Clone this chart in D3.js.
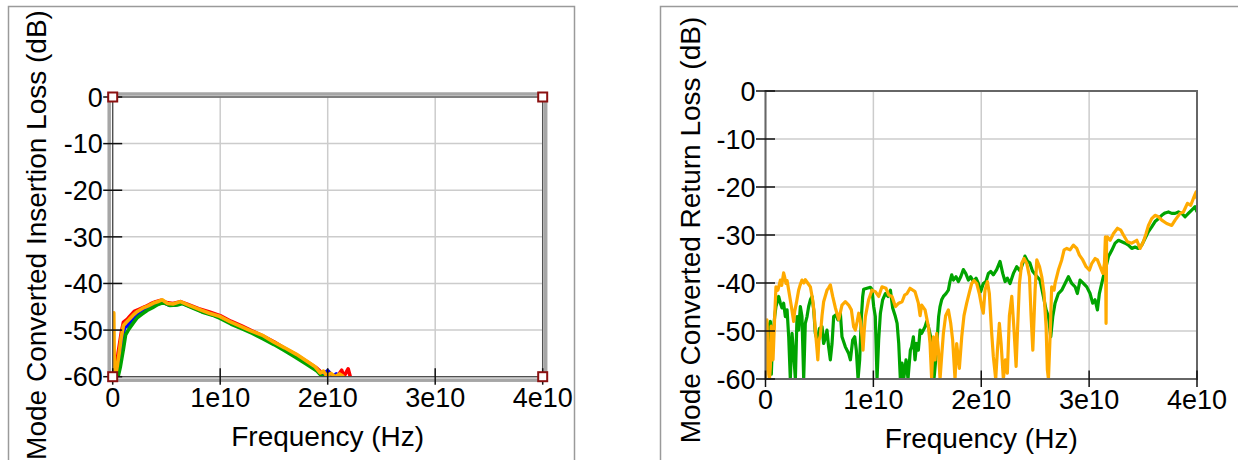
<!DOCTYPE html>
<html>
<head>
<meta charset="utf-8">
<script src="https://cdn.jsdelivr.net/npm/d3@7"></script>
<style>
  body { margin: 0; background: #fff; }
  svg { display: block; font-family: "Liberation Sans", Arial, sans-serif; }
</style>
</head>
<body>
<svg id="chart" width="1238" height="460"></svg>
<script>
// axis ticks (frequency in Hz, level in dB)
const freqTicks = [0, 1e10, 2e10, 3e10, 4e10];
const freqTickLabels = ["0", "1e10", "2e10", "3e10", "4e10"];
const dbTicks = [0, -10, -20, -30, -40, -50, -60];

// left plot: mode converted insertion loss, points are [GHz, dB]
const insRed = [[0.1,-60],[0.3,-59],[0.5,-55],[0.8,-50.5],[1.0,-48.3],[1.3,-47.8],[1.6,-47],[2.0,-46],[2.5,-45.5],[3.0,-45],[3.5,-44.4],[4.0,-43.9],[4.5,-43.6],[5.0,-44.1],[5.6,-44.3],[6.3,-43.9],[7.0,-44.5],[8.0,-45.4],[9.0,-46.1],[10.0,-46.9],[11.0,-48.1],[12.0,-49.1],[13.0,-50.2],[14.0,-51.3],[15.0,-52.5],[16.0,-53.9],[17.0,-55.2],[18.0,-56.7],[19.0,-58.2],[19.6,-59.5],[20.1,-59],[20.5,-60],[21.0,-59.6],[21.3,-58.6],[21.5,-60],[21.9,-58.3],[22.1,-60]];
const insBlue = [[0.1,-60],[0.4,-59.5],[0.6,-57],[0.9,-52],[1.1,-49.5],[1.4,-49],[1.8,-47.8],[2.2,-46.8],[2.6,-46.4],[3.0,-45.6],[3.5,-45.2],[4.0,-44.5],[4.6,-43.9],[5.2,-44.6],[5.8,-44.6],[6.4,-44.2],[7.2,-44.9],[8.2,-45.9],[9.2,-46.6],[10.0,-47.3],[11.0,-48.4],[12.0,-49.4],[13.0,-50.4],[14.0,-51.6],[15.0,-52.8],[16.0,-54.1],[17.0,-55.5],[18.0,-56.9],[19.0,-58.5],[19.5,-59.6],[20.0,-58.7],[20.5,-60],[20.8,-59.4],[21.2,-60]];
const insGreen = [[0.2,-60],[0.5,-60],[0.7,-58],[1.0,-54],[1.2,-51],[1.5,-49.8],[1.9,-48.5],[2.3,-47.3],[2.7,-46.6],[3.2,-45.8],[3.7,-45.2],[4.2,-44.5],[4.7,-44.1],[5.3,-44.7],[6.0,-44.6],[6.5,-44.3],[7.3,-45.1],[8.3,-46.1],[9.3,-46.8],[10.0,-47.5],[11.0,-48.7],[12.0,-49.7],[13.0,-50.7],[14.0,-51.9],[15.0,-53.1],[16.0,-54.4],[17.0,-55.8],[18.0,-57.3],[19.0,-58.8],[19.5,-60],[20.0,-60]];
const insOrange = [[0.0,-60],[0.05,-47],[0.1,-46.3],[0.15,-58],[0.25,-60],[0.4,-58],[0.6,-55],[0.8,-51.5],[1.0,-49],[1.2,-48.5],[1.5,-47.8],[1.9,-46.8],[2.3,-46],[2.8,-45.3],[3.3,-44.8],[3.8,-44.2],[4.3,-43.8],[4.6,-43.5],[5.1,-44.3],[5.6,-44.4],[6.3,-43.9],[7.0,-44.6],[8.1,-45.6],[9.0,-46.4],[10.0,-47.1],[10.9,-48.2],[11.8,-49.1],[12.8,-50.1],[14.0,-51.2],[15.0,-52.6],[16.0,-53.8],[17.1,-55.2],[18.0,-56.6],[18.8,-57.8],[19.3,-59.2],[19.6,-58.8],[19.9,-59.8],[20.3,-59.3],[20.7,-60],[21.1,-59.4],[21.5,-60]];

// right plot: mode converted return loss, points are [GHz, dB]
const retGreen = [[0.0,-52],[0.05,-50.5],[0.15,-56],[0.29,-49.1],[0.45,-48],[0.54,-59],[0.65,-52],[0.85,-47],[0.97,-44.9],[1.22,-42.8],[1.38,-44.2],[1.53,-45.2],[1.68,-44.2],[1.84,-47],[2.0,-45.6],[2.15,-51.2],[2.3,-60],[2.46,-50.5],[2.61,-54.7],[2.77,-60],[2.92,-47],[3.07,-49.8],[3.23,-44.9],[3.38,-47],[3.54,-60],[3.69,-48.4],[3.85,-47],[4.0,-44.9],[4.16,-43.5],[4.31,-42.8],[4.47,-45.6],[4.62,-50.5],[4.8,-52],[5.0,-49.5],[5.24,-49.1],[5.39,-52.6],[5.54,-51.5],[5.7,-49.8],[5.85,-53.3],[6.01,-56],[6.17,-52.6],[6.32,-47],[6.54,-46.6],[6.72,-47.7],[6.94,-46.3],[7.09,-51.2],[7.4,-53.3],[7.71,-54.7],[7.87,-56],[8.08,-51.9],[8.27,-51.2],[8.42,-54],[8.58,-60],[8.73,-56],[8.89,-47],[9.01,-42.8],[9.1,-41.3],[9.41,-41.1],[9.72,-40.9],[9.87,-41.3],[10.03,-44.9],[10.18,-47],[10.34,-60],[10.49,-51.9],[10.65,-46.3],[10.86,-43.5],[11.11,-42.2],[11.36,-42.8],[11.58,-41.5],[11.79,-45.2],[12.04,-47],[12.2,-48.4],[12.35,-52.6],[12.5,-60],[12.66,-56.7],[12.81,-60],[13.03,-56],[13.21,-60],[13.43,-54],[13.55,-53.3],[13.71,-51.2],[13.86,-56],[14.02,-52.6],[14.17,-54],[14.33,-49.8],[14.48,-50.5],[14.79,-49.1],[14.94,-48],[15.1,-49.1],[15.31,-51.2],[15.5,-54],[15.62,-60],[15.81,-55.3],[15.93,-51.2],[16.05,-47],[16.18,-44.9],[16.33,-43.5],[16.49,-42.8],[16.73,-42.2],[16.95,-41.5],[17.1,-39.7],[17.26,-38.3],[17.42,-39.4],[17.66,-38.7],[17.88,-39.7],[18.1,-38.7],[18.34,-37.2],[18.56,-38],[18.81,-39.4],[19.02,-38.7],[19.27,-39.7],[19.52,-39],[19.73,-40.1],[19.95,-41.8],[20.19,-40.1],[20.44,-39.7],[20.66,-38],[20.88,-37.6],[21.12,-38.3],[21.43,-37.2],[21.74,-35.5],[21.99,-38],[22.21,-39.7],[22.42,-39],[22.67,-40.1],[22.98,-38],[23.29,-36.6],[23.6,-37.5],[23.91,-35.5],[24.05,-34.4],[24.3,-35.5],[24.5,-35.8],[24.75,-37.5],[25.1,-38.5],[25.45,-39.4],[25.76,-42.8],[26.01,-45.6],[26.23,-47],[26.44,-51.2],[26.63,-47],[26.84,-44.2],[27.15,-42.2],[27.46,-41.5],[27.77,-40.1],[28.08,-38.7],[28.39,-40.1],[28.7,-40.8],[28.91,-42.2],[29.16,-39.4],[29.47,-40.1],[29.78,-40.8],[30.09,-42.2],[30.33,-44.2],[30.55,-43.5],[30.77,-45.6],[30.95,-42.2],[31.17,-40.1],[31.39,-38],[31.57,-36.6],[31.79,-34.5],[32.1,-33.2],[32.41,-31.7],[32.72,-31.1],[33.03,-31.4],[33.34,-31.7],[33.64,-32.1],[33.95,-32.8],[34.26,-32.5],[34.57,-32.8],[34.88,-32.1],[35.19,-30.7],[35.5,-29.3],[35.8,-28.3],[36.11,-27.2],[36.42,-26.6],[36.73,-25.9],[37.04,-25.4],[37.35,-25.2],[37.66,-25.5],[37.97,-25.5],[38.28,-25.2],[38.59,-25.5],[38.9,-26.2],[39.2,-25.5],[39.51,-24.8],[39.82,-24.1],[40,-25.2]];
const retOrange = [[0.0,-60],[0.05,-59],[0.14,-47.7],[0.22,-55],[0.29,-52.6],[0.37,-60],[0.45,-57.4],[0.52,-49],[0.6,-50.5],[0.7,-56],[0.85,-47],[0.97,-40.8],[1.15,-41.5],[1.38,-39.4],[1.5,-40.5],[1.68,-37.9],[1.8,-39],[1.9,-40.1],[2.0,-39.5],[2.15,-41.5],[2.4,-44.9],[2.61,-48],[2.7,-46],[2.86,-44.2],[3.07,-41.5],[3.2,-40.5],[3.38,-39.4],[3.55,-40],[3.69,-39.3],[3.94,-40.1],[4.16,-40.8],[4.37,-43.5],[4.5,-46],[4.62,-49.8],[4.78,-54],[4.85,-56],[4.95,-52],[5.08,-51],[5.24,-46.8],[5.39,-43.9],[5.7,-41.5],[5.85,-41],[6.01,-40.4],[6.23,-42.8],[6.48,-45.2],[6.79,-47.6],[6.95,-46],[7.09,-44.6],[7.4,-43.9],[7.71,-44.6],[7.96,-45.6],[8.17,-49.1],[8.33,-49.8],[8.5,-48],[8.64,-46.3],[8.8,-48],[8.95,-51.2],[9.04,-54],[9.15,-50],[9.26,-47],[9.56,-43.5],[9.87,-41.5],[10.18,-41.8],[10.49,-42.8],[10.8,-40.8],[11.17,-41.1],[11.42,-42.5],[11.73,-42.8],[12.04,-44.9],[12.35,-44.2],[12.66,-43.9],[12.9,-42.5],[13.12,-42.2],[13.4,-41.1],[13.86,-41.8],[14.17,-44.2],[14.33,-46.8],[14.48,-44.6],[14.79,-45.6],[15.1,-49.1],[15.25,-52.5],[15.4,-59.9],[15.56,-51.2],[15.72,-56],[15.87,-50.5],[16.03,-54],[16.18,-60],[16.33,-55.3],[16.49,-50.5],[16.7,-46.8],[16.95,-45.6],[17.17,-48.4],[17.35,-51.9],[17.57,-60],[17.72,-52.6],[17.97,-57.8],[18.19,-51.2],[18.4,-46.8],[18.65,-44.2],[18.87,-42.2],[19.11,-40.1],[19.33,-39.5],[19.58,-40.1],[19.82,-42.2],[20.04,-44.9],[20.19,-46.3],[20.35,-41.5],[20.57,-39.7],[20.75,-42.2],[20.97,-50.5],[21.12,-55.3],[21.34,-60],[21.5,-54],[21.68,-48.4],[21.84,-52.6],[22.05,-60],[22.24,-56],[22.42,-58.8],[22.61,-46.8],[22.83,-42.8],[23.04,-49.8],[23.23,-57.4],[23.35,-50.5],[23.54,-40.1],[23.75,-35.9],[23.97,-34.9],[24.22,-35.9],[24.47,-38.7],[24.62,-46.8],[24.78,-54],[24.99,-41.5],[25.15,-35.2],[25.4,-36.6],[25.61,-38.7],[25.82,-42.2],[26.01,-49.1],[26.13,-58.1],[26.23,-60],[26.38,-51.2],[26.53,-40.8],[26.75,-41.5],[26.84,-40.1],[27.15,-37.3],[27.46,-35.2],[27.68,-33.1],[27.93,-32.8],[28.23,-33.1],[28.54,-32.1],[28.85,-32.8],[29.1,-34.2],[29.41,-35.2],[29.72,-36.6],[30.03,-37.3],[30.25,-35.9],[30.56,-34.9],[30.77,-35.2],[31.02,-36.6],[31.27,-38],[31.42,-35.9],[31.51,-30.4],[31.57,-48.4],[31.62,-31],[31.7,-30.4],[31.95,-31.1],[32.26,-29.7],[32.63,-28.6],[32.94,-29],[33.18,-30],[33.55,-31.4],[33.95,-31.7],[34.42,-31.1],[34.72,-32.8],[35.03,-31.4],[35.28,-29.7],[35.5,-28],[35.8,-26.6],[36.11,-25.9],[36.42,-26.2],[36.73,-26.9],[37.19,-27.6],[37.66,-28],[37.97,-26.9],[38.43,-25.5],[38.74,-25.2],[39.11,-23.4],[39.42,-23.8],[39.73,-22],[39.92,-21],[40,-22.5]];

const RED = "#ff0000", BLUE = "#0000ff", GREEN = "#00a400", ORANGE = "#ffaa00";
const TICK_FONT = 27, TITLE_FONT = 28;

var svg = d3.select("#chart");

drawPanel({
    id: "ins",
    box: {x: 8.5, y: 6.5, w: 566, h: 480},
    plot: {left: 112.7, right: 542.7, top: 97, bottom: 376.7},
    yTitle: "Mode Converted Insertion Loss (dB)",
    yTitleX: 46, yTitleY: 235,
    framed: true,
    lineWidth: 3.6,
    series: [[insRed, RED], [insBlue, BLUE], [insGreen, GREEN], [insOrange, ORANGE]]
});

drawPanel({
    id: "ret",
    box: {x: 660.5, y: 6.5, w: 620, h: 480},
    plot: {left: 765.5, right: 1197, top: 91, bottom: 379},
    yTitle: "Mode Converted Return Loss (dB)",
    yTitleX: 700, yTitleY: 230,
    framed: false,
    lineWidth: 3.2,
    series: [[retGreen, GREEN], [retOrange, ORANGE]]
});

function drawPanel(p) {
    // outer panel border
    svg.append("rect")
        .attr("x", p.box.x).attr("y", p.box.y)
        .attr("width", p.box.w).attr("height", p.box.h)
        .attr("fill", "none")
        .attr("stroke", "#9a9a9a")
        .attr("stroke-width", 1.5);

    var x = d3.scaleLinear().domain([0, 4e10]).range([p.plot.left, p.plot.right]);
    var y = d3.scaleLinear().domain([-60, 0]).range([p.plot.bottom, p.plot.top]);
    var g = svg.append("g");

    // grid
    g.selectAll(".vgrid").data(freqTicks).enter().append("line")
        .attr("x1", d => x(d)).attr("x2", d => x(d))
        .attr("y1", p.plot.top).attr("y2", p.plot.bottom)
        .attr("stroke", "#cccccc").attr("stroke-width", 1.5);
    g.selectAll(".hgrid").data(dbTicks).enter().append("line")
        .attr("x1", p.plot.left).attr("x2", p.plot.right)
        .attr("y1", d => y(d)).attr("y2", d => y(d))
        .attr("stroke", "#cccccc").attr("stroke-width", 1.5);

    // traces
    svg.append("clipPath").attr("id", "clip-" + p.id)
        .append("rect")
        .attr("x", p.plot.left).attr("y", p.plot.top)
        .attr("width", p.plot.right - p.plot.left)
        .attr("height", p.plot.bottom - p.plot.top);

    var line = d3.line()
        .x(d => x(d[0] * 1e9))
        .y(d => y(d[1]));

    var traces = svg.append("g").attr("clip-path", "url(#clip-" + p.id + ")");
    p.series.forEach(function(s) {
        traces.append("path")
            .datum(s[0])
            .attr("d", line)
            .attr("fill", "none")
            .attr("stroke", s[1])
            .attr("stroke-width", p.lineWidth)
            .attr("stroke-linejoin", "round");
    });

    // plot frame
    if (p.framed) {
        svg.append("rect")
            .attr("x", p.plot.left - 3.5).attr("y", p.plot.top - 3)
            .attr("width", p.plot.right - p.plot.left + 6.5)
            .attr("height", p.plot.bottom - p.plot.top + 6.5)
            .attr("fill", "none").attr("stroke", "#a6a6a6").attr("stroke-width", 3.5);
        svg.append("rect")
            .attr("x", p.plot.left).attr("y", p.plot.top)
            .attr("width", p.plot.right - p.plot.left)
            .attr("height", p.plot.bottom - p.plot.top)
            .attr("fill", "none").attr("stroke", "#444").attr("stroke-width", 1.2);
    } else {
        svg.append("rect")
            .attr("x", p.plot.left).attr("y", p.plot.top)
            .attr("width", p.plot.right - p.plot.left)
            .attr("height", p.plot.bottom - p.plot.top)
            .attr("fill", "none").attr("stroke", "#666").attr("stroke-width", 2);
    }

    // tick marks crossing the axes
    svg.append("g").selectAll("line").data(dbTicks).enter().append("line")
        .attr("x1", p.plot.left - 9.5).attr("x2", p.plot.left + 9.5)
        .attr("y1", d => y(d)).attr("y2", d => y(d))
        .attr("stroke", "#111").attr("stroke-width", 1.5);
    svg.append("g").selectAll("line").data(freqTicks).enter().append("line")
        .attr("x1", d => x(d)).attr("x2", d => x(d))
        .attr("y1", p.plot.bottom - 8.5).attr("y2", p.plot.bottom + 8)
        .attr("stroke", "#111").attr("stroke-width", 1.5);

    // corner markers on the framed plot
    if (p.framed) {
        var corners = [[0, 0], [4e10, 0], [0, -60], [4e10, -60]];
        svg.append("g").selectAll("rect").data(corners).enter().append("rect")
            .attr("x", d => x(d[0]) - 4.5).attr("y", d => y(d[1]) - 4.5)
            .attr("width", 9).attr("height", 9)
            .attr("fill", "#fff").attr("stroke", "#8b1010").attr("stroke-width", 2);
    }

    // tick labels
    svg.append("g").selectAll("text").data(dbTicks).enter().append("text")
        .attr("x", p.plot.left - 10)
        .attr("y", d => y(d))
        .attr("dy", "0.36em")
        .attr("text-anchor", "end")
        .style("font-size", TICK_FONT + "px")
        .text(d => d);
    svg.append("g").selectAll("text").data(freqTicks).enter().append("text")
        .attr("x", d => x(d))
        .attr("y", p.plot.bottom + 30)
        .attr("text-anchor", "middle")
        .style("font-size", TICK_FONT + "px")
        .text((d, i) => freqTickLabels[i]);

    // axis titles
    svg.append("text")
        .attr("x", (p.plot.left + p.plot.right) / 2)
        .attr("y", p.plot.bottom + 69)
        .attr("text-anchor", "middle")
        .style("font-size", TITLE_FONT + "px")
        .text("Frequency (Hz)");

    svg.append("g")
        .attr("transform", "translate(" + p.yTitleX + "," + p.yTitleY + ")")
        .append("text")
        .attr("text-anchor", "middle")
        .attr("transform", "rotate(-90)")
        .style("font-size", TITLE_FONT + "px")
        .text(p.yTitle);
}
</script>
</body>
</html>
